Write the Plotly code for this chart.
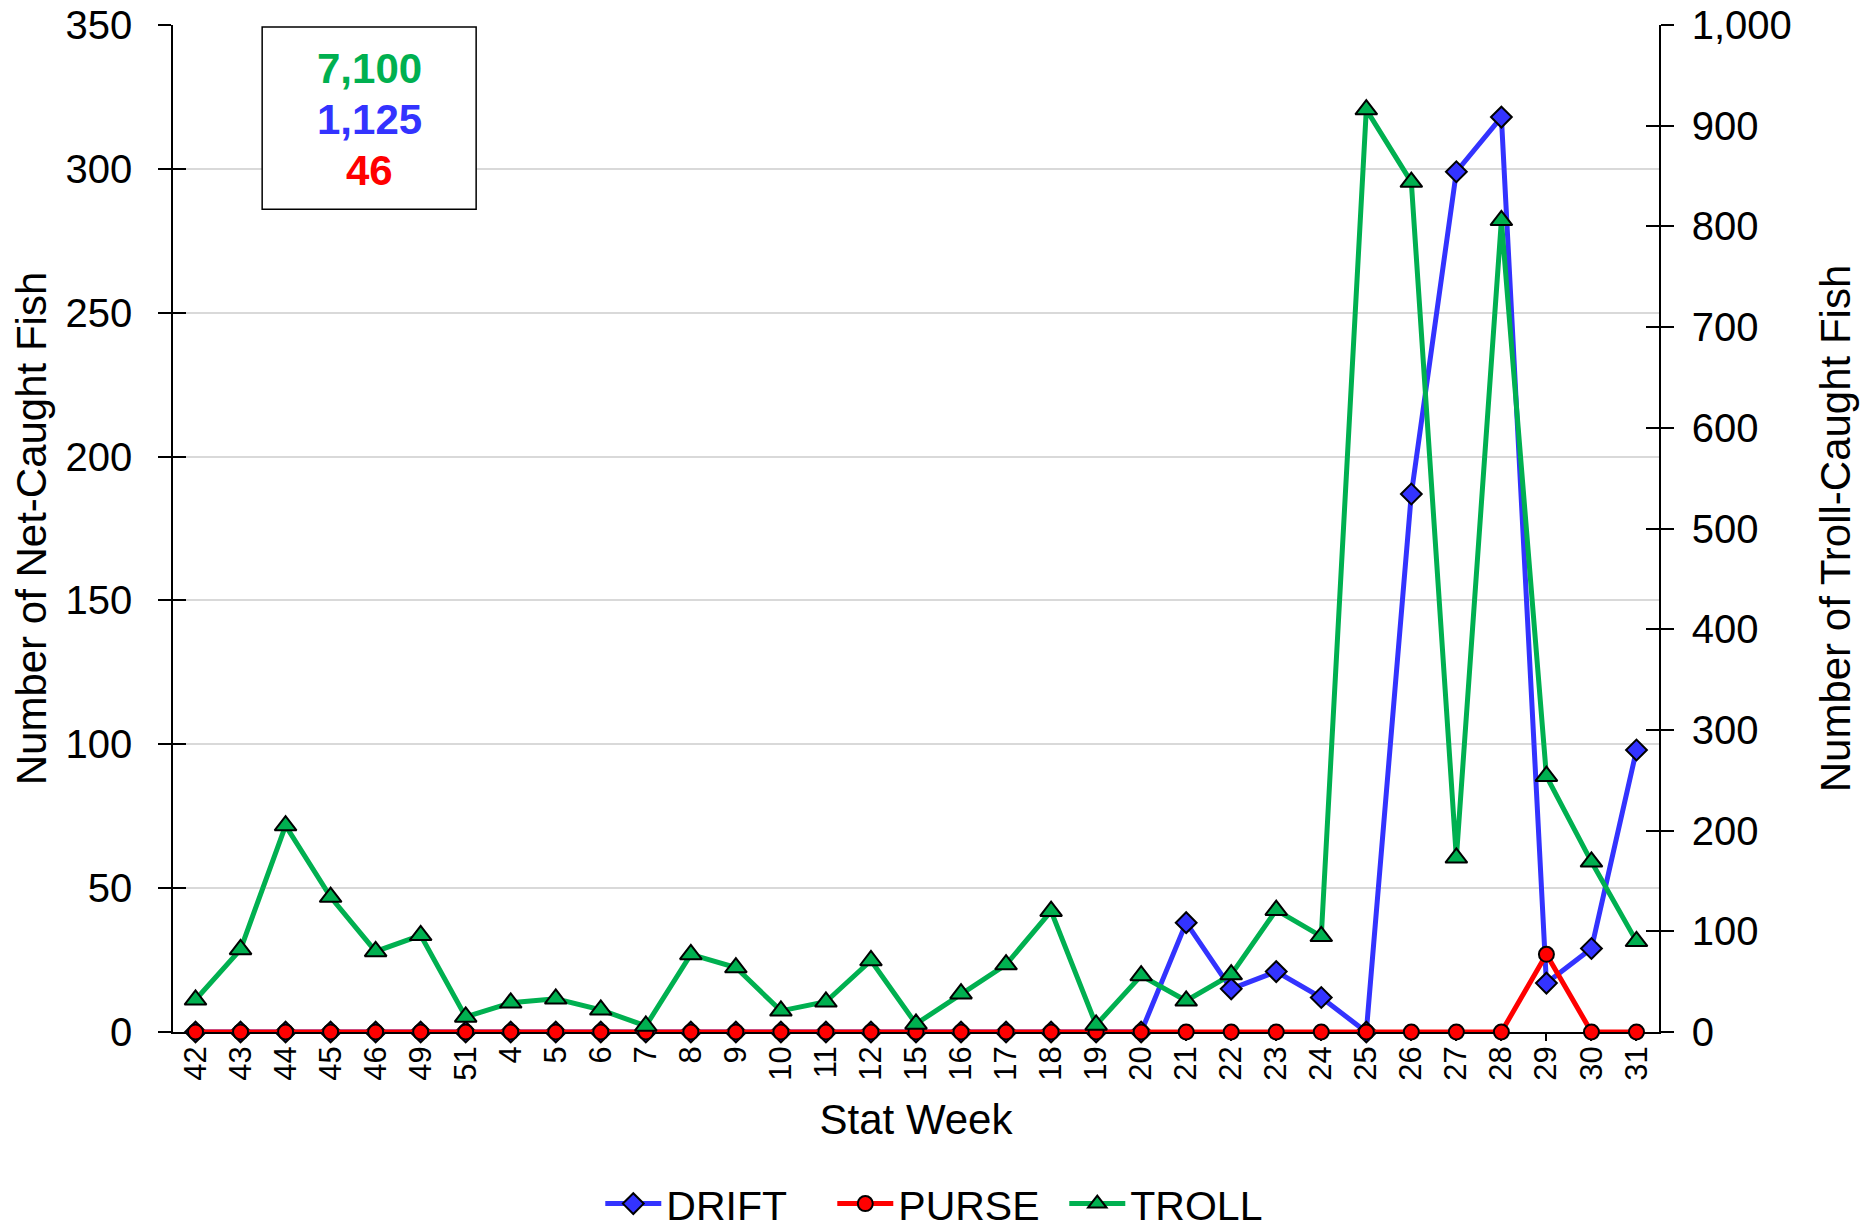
import plotly.graph_objects as go

weeks = ["42", "43", "44", "45", "46", "49", "51", "4", "5", "6", "7", "8", "9",
         "10", "11", "12", "15", "16", "17", "18", "19", "20", "21", "22", "23",
         "24", "25", "26", "27", "28", "29", "30", "31"]

drift = [0, 0, 0, 0, 0, 0, 0, 0, 0, 0, 0, 0, 0, 0, 0, 0, 0, 0, 0, 0, 0,
         0, 38, 15, 21, 12, 0, 187, 299, 318, 17, 29, 98]
purse = [0, 0, 0, 0, 0, 0, 0, 0, 0, 0, 0, 0, 0, 0, 0, 0, 0, 0, 0, 0, 0,
         0, 0, 0, 0, 0, 0, 0, 0, 0, 27, 0, 0]
troll = [32, 82, 205, 134, 80, 96, 15, 29, 33, 22, 6, 77, 64, 21, 30, 71, 8,
         38, 67, 120, 7, 56, 31, 57, 121, 95, 916, 844, 173, 806, 254, 169, 90]

totals = ["7,100", "1,125", "46"]
total_colors = ["#00B050", "#3333FF", "#FF0000"]

FONT = "Liberation Sans, Arial, sans-serif"

fig = go.Figure()

fig.add_trace(go.Scatter(
    x=weeks, y=drift, name="DRIFT", mode="lines+markers", cliponaxis=False,
    line=dict(color="#3333FF", width=5),
    marker=dict(symbol="diamond", size=16, color="#3333FF",
                line=dict(color="black", width=2)),
))
fig.add_trace(go.Scatter(
    x=weeks, y=purse, name="PURSE", mode="lines+markers", cliponaxis=False,
    line=dict(color="#FF0000", width=5),
    marker=dict(symbol="circle", size=15, color="#FF0000",
                line=dict(color="black", width=2)),
))
fig.add_trace(go.Scatter(
    x=weeks, y=troll, name="TROLL", mode="lines+markers", cliponaxis=False,
    yaxis="y2",
    line=dict(color="#00B050", width=5),
    marker=dict(symbol="triangle-up", size=19, color="#00B050",
                line=dict(color="black", width=2)),
))
# empty traces so the inner half of the crossing ticks get drawn
fig.add_trace(go.Scatter(x=weeks, y=[None] * len(weeks), yaxis="y3",
                         showlegend=False, hoverinfo="skip"))
fig.add_trace(go.Scatter(x=weeks, y=[None] * len(weeks), yaxis="y4",
                         showlegend=False, hoverinfo="skip"))

tick_common = dict(ticks="outside", ticklen=13, tickwidth=1.5, tickcolor="black",
                   showline=True, linecolor="black", linewidth=1.5,
                   zeroline=False, automargin=False, ticklabeloverflow="allow",
                   tickfont=dict(size=40, color="black"))

# box with the season totals
fig.add_shape(type="rect", xref="paper", yref="paper",
              x0=0.06, x1=0.204, y0=0.817, y1=0.998,
              line=dict(color="black", width=1.5), fillcolor="white")
for i, (t, c) in enumerate(zip(totals, total_colors)):
    fig.add_annotation(xref="paper", yref="paper", x=0.132, y=0.957 - i * 0.0508,
                       xanchor="center", yanchor="middle",
                       text=f"<b>{t}</b>", showarrow=False,
                       font=dict(size=42, color=c, family=FONT))

fig.update_layout(
    width=1869, height=1225,
    margin=dict(l=165, r=218, t=17, b=201, autoexpand=False),
    plot_bgcolor="white", paper_bgcolor="white",
    font=dict(family=FONT, color="black"),
    showlegend=True,
    legend=dict(orientation="h", xref="container", yref="container",
                x=0.3169, xanchor="left", y=0.0237, yanchor="middle",
                font=dict(size=41), itemwidth=56,
                entrywidth=161, entrywidthmode="pixels",
                traceorder="normal"),
    xaxis=dict(type="category", range=[-0.5, len(weeks) - 0.5],
               tickangle=-90, ticks="outside", ticklen=7, tickwidth=1.5,
               tickcolor="black", showline=True, linecolor="black",
               linewidth=1.5, layer="below traces", showgrid=False,
               automargin=False, ticklabelstandoff=-7,
               tickfont=dict(size=31, color="black"),
               title=dict(text="Stat Week", font=dict(size=42), standoff=25)),
    yaxis=dict(range=[0, 350], dtick=50, showgrid=True, gridcolor="#D9D9D9",
               gridwidth=2, ticklabelstandoff=18,
               title=dict(text="Number of Net-Caught Fish", font=dict(size=42),
                          standoff=8),
               **tick_common),
    yaxis2=dict(range=[0, 1000], dtick=100, tickformat=",", side="right",
                overlaying="y", showgrid=False, ticklabelstandoff=10,
                title=dict(text="Number of Troll-Caught Fish",
                           font=dict(size=42), standoff=30),
                **tick_common),
    yaxis3=dict(range=[0, 350], dtick=50, overlaying="y", side="left",
                ticks="inside", ticklen=13, tickwidth=1.5, tickcolor="black",
                showticklabels=False, showgrid=False, zeroline=False,
                showline=False, automargin=False),
    yaxis4=dict(range=[0, 1000], dtick=100, overlaying="y", side="right",
                ticks="inside", ticklen=13, tickwidth=1.5, tickcolor="black",
                showticklabels=False, showgrid=False, zeroline=False,
                showline=False, automargin=False),
)

fig.write_html("out.html")
